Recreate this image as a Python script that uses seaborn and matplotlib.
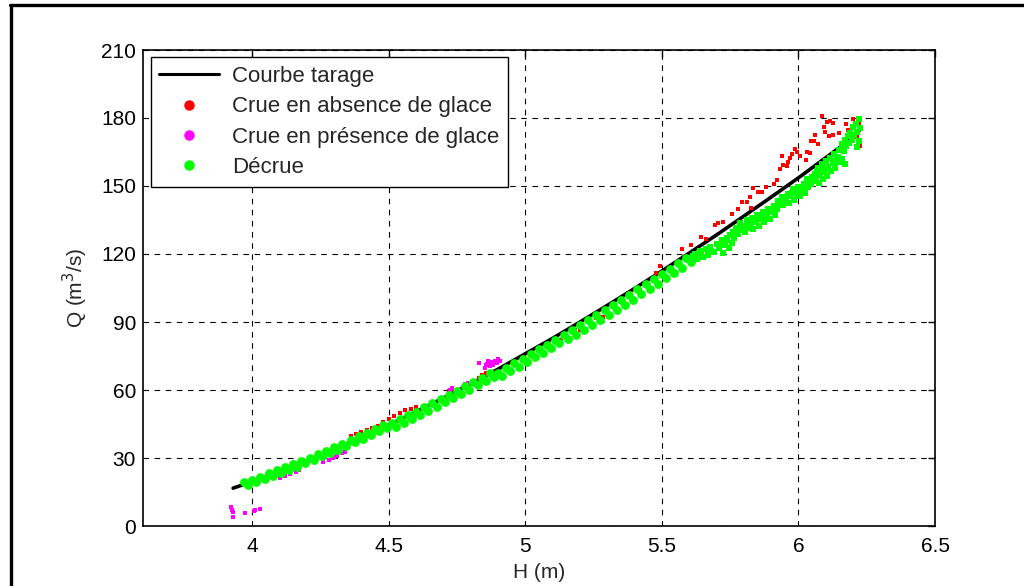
import matplotlib
matplotlib.use("Agg")
import matplotlib.pyplot as plt
from matplotlib.lines import Line2D
import seaborn as sns
import pandas as pd

# ---------------- data ----------------
curve_H = [3.93, 4.0, 4.1, 4.2, 4.3, 4.4, 4.5, 4.6, 4.7, 4.8, 4.9, 5.0, 5.1, 5.2,
           5.3, 5.4, 5.5, 5.6, 5.7, 5.8, 5.9, 6.0, 6.1, 6.2, 6.23]
curve_Q = [16.7, 19.6, 24.1, 28.8, 33.8, 39.1, 44.6, 50.4, 56.5, 62.7, 69.2, 76.0, 82.8, 90.0,
           97.3, 104.8, 112.5, 120.4, 128.4, 136.7, 145.1, 153.6, 162.5, 171.4, 175.5]

red_H = [4.36, 4.38, 4.40, 4.42, 4.44, 4.46, 4.48, 4.50, 4.52, 4.54, 4.56, 4.58, 4.60,
         4.72, 4.73, 4.83, 4.84, 4.85, 4.855, 4.86,
         5.132, 5.17, 5.181, 5.2, 5.224, 5.26, 5.285, 5.382, 5.419, 5.48, 5.492, 5.572, 5.608,
         5.645, 5.661, 5.694, 5.706, 5.724, 5.755, 5.779, 5.795, 5.81, 5.822, 5.826, 5.834,
         5.852, 5.865, 5.883, 5.91, 5.92, 5.932, 5.938, 5.944, 5.957, 5.962, 5.969, 5.975,
         5.987, 5.993, 6.005, 6.028, 6.03, 6.042, 6.047, 6.056, 6.06, 6.073, 6.087, 6.093,
         6.097, 6.103, 6.111, 6.115, 6.125, 6.127, 6.149, 6.174, 6.182, 6.195, 6.2, 6.213,
         6.219, 6.222, 6.227]
red_Q = [39.5, 40.5, 41.5, 42.5, 43.3, 44.3, 45.7, 47.0, 48.5, 49.7, 51.1, 51.5, 52.3,
         59.5, 60.5, 65.5, 66.5, 66.0, 67.5, 67.0,
         82.1, 86.0, 86.5, 86.5, 90.9, 91.6, 92.3, 102.7, 104.1, 111.5, 114.7, 122.1, 124.0,
         127.6, 126.6, 132.8, 133.6, 134.3, 137.6, 139.7, 143.1, 143.1, 145.0, 140.2, 148.9,
         147.5, 147.5, 149.7, 150.7, 152.6, 157.5, 163.2, 159.3, 158.8, 160.7, 162.2, 164.1,
         166.3, 165.1, 163.2, 161.5, 165.1, 164.4, 170.0, 170.0, 172.5, 168.4, 180.9, 175.9,
         174.0, 178.4, 172.0, 178.8, 177.7, 172.5, 173.5, 177.2, 174.7, 171.0, 179.4, 171.8,
         179.9, 177.7, 167.6]

mag_H = [3.923, 3.925, 3.929, 3.929, 3.972, 4.006, 4.01, 4.027,
         4.10, 4.12, 4.14, 4.16, 4.17, 4.26, 4.28, 4.294, 4.30, 4.31, 4.33, 4.34,
         4.723, 4.73, 4.78, 4.79, 4.797, 4.805, 4.829, 4.852, 4.855, 4.86, 4.865, 4.87,
         4.875, 4.88, 4.89, 4.895, 4.9, 4.907]
mag_Q = [8.2, 7.0, 6.3, 4.1, 5.6, 6.8, 7.2, 7.5,
         21.0, 22.0, 23.0, 24.0, 24.5, 28.2, 29.2, 29.8, 30.4, 31.0, 32.0, 32.5,
         60.0, 61.0, 62.6, 63.2, 63.0, 63.5, 72.0, 69.7, 71.0, 71.5, 73.0, 70.5,
         72.5, 71.0, 73.0, 72.0, 73.5, 72.8]

# dense band of "Décrue" points (3.97 - 5.6 m)
band_H = [
    3.97, 4.00, 4.03, 4.06, 4.09, 4.12, 4.15, 4.18, 4.21, 4.24, 4.27, 4.30, 4.33, 4.36,
    4.39, 4.42, 4.45, 4.48, 4.51, 4.54, 4.57, 4.60, 4.63, 4.66, 4.69, 4.72, 4.75, 4.78,
    4.81, 4.84, 4.87, 4.90, 4.93, 4.96, 4.99, 5.02, 5.05, 5.08, 5.11, 5.14, 5.17, 5.20,
    5.23, 5.26, 5.29, 5.32, 5.35, 5.38, 5.41, 5.44, 5.47, 5.50, 5.53, 5.56, 5.59,
    3.985, 4.015, 4.045, 4.075, 4.105, 4.135, 4.165, 4.195, 4.225, 4.255, 4.285, 4.315,
    4.345, 4.375, 4.405, 4.435, 4.465, 4.495, 4.525, 4.555, 4.585, 4.615, 4.645, 4.675,
    4.705, 4.735, 4.765, 4.795, 4.825, 4.855, 4.885, 4.915, 4.945, 4.975, 5.005, 5.035,
    5.065, 5.095, 5.125, 5.155, 5.185, 5.215, 5.245, 5.275, 5.305, 5.335, 5.365, 5.395,
    5.425, 5.455, 5.485, 5.515, 5.545, 5.575, 5.605]
band_Q = [
    19.2, 20.5, 21.8, 23.2, 24.5, 25.9, 27.3, 28.7, 30.2, 31.7, 33.2, 34.7, 36.3, 37.8,
    39.5, 41.1, 42.7, 44.4, 45.3, 47.0, 48.8, 50.5, 52.3, 54.1, 56.0, 57.8, 59.7, 61.6,
    63.4, 65.4, 67.3, 67.7, 69.7, 71.8, 73.8, 75.9, 77.9, 79.9, 82.0, 84.2, 86.6, 88.8,
    91.0, 93.1, 95.4, 97.6, 99.8, 102.1, 104.4, 106.6, 109.0, 111.3, 113.6, 116.0, 118.4,
    18.1, 19.4, 20.7, 22.1, 23.4, 24.8, 26.2, 27.7, 29.2, 30.7, 32.2, 33.7,
    35.2, 36.9, 38.5, 40.1, 41.7, 43.4, 43.8, 45.5, 47.2, 49.0, 50.8, 52.7,
    54.5, 56.4, 58.2, 60.1, 62.0, 63.9, 65.9, 66.2, 68.3, 70.3, 72.3, 74.4,
    76.4, 78.5, 80.6, 82.3, 84.4, 86.6, 88.7, 91.0, 93.2, 95.4, 97.6, 99.9,
    102.2, 104.5, 106.8, 109.2, 111.5, 113.9, 116.3]

# scattered "Décrue" points of the upper part (5.6 - 6.23 m)
upper_H = [
    5.62, 5.63, 5.645, 5.65, 5.66, 5.67, 5.675, 5.69, 5.70, 5.71, 5.72, 5.725, 5.73,
    5.74, 5.745, 5.75, 5.755,
    5.76, 5.77, 5.78, 5.785, 5.79, 5.80, 5.805, 5.81, 5.815, 5.82, 5.83, 5.835, 5.84,
    5.85, 5.855, 5.86, 5.87, 5.875, 5.88, 5.89, 5.895, 5.90, 5.91, 5.915, 5.92,
    5.93, 5.94, 5.945, 5.95, 5.96, 5.965, 5.97, 5.98, 5.985, 5.99, 6.00, 6.005, 6.01,
    6.02, 6.025, 6.03, 6.035, 6.04, 6.05,
    6.055, 6.06, 6.065, 6.07, 6.075, 6.08, 6.085, 6.09, 6.095, 6.10, 6.105, 6.11, 6.115,
    6.12, 6.125, 6.13, 6.135, 6.14, 6.15, 6.16, 6.17,
    6.15, 6.16, 6.165, 6.17, 6.175, 6.18, 6.185, 6.19, 6.195, 6.20, 6.205, 6.21, 6.215,
    6.22, 6.225, 6.22, 6.215,
    5.615, 5.64, 5.68, 5.715, 5.735, 5.765, 5.775, 5.795, 5.825, 5.845, 5.865, 5.885,
    5.905, 5.925, 5.955, 5.975, 5.995, 6.015, 6.045, 6.068, 6.088, 6.108, 6.128, 6.145]
upper_Q = [
    120.0, 118.0, 120.5, 118.5, 122.0, 119.5, 123.0, 121.0, 124.5, 122.5, 126.0, 120.5,
    124.0, 127.0, 122.5, 128.5, 125.0,
    129.5, 131.5, 128.8, 133.5, 130.5, 132.5, 129.5, 135.0, 131.5, 133.5, 136.0, 131.0,
    134.0, 137.0, 132.5, 135.5, 138.5, 134.0, 137.0, 140.0, 135.5, 138.5, 141.0, 137.0,
    140.0,
    142.5, 145.0, 141.5, 144.0, 146.5, 142.5, 145.5, 148.5, 144.0, 147.0, 149.5, 145.5,
    148.0, 151.0, 147.0, 153.0, 149.5, 152.0, 154.0,
    152.0, 155.5, 153.5, 158.0, 151.5, 155.0, 159.5, 153.0, 157.0, 161.0, 154.5, 158.5,
    162.5, 156.5, 160.0, 164.0, 158.0, 162.0, 160.5, 162.0, 159.5,
    166.0, 168.5, 165.5, 170.5, 167.5, 172.0, 169.0, 173.5, 170.5, 176.0, 172.5, 177.5,
    174.0, 179.5, 175.5, 170.0, 167.0,
    119.0, 121.5, 121.5, 124.5, 126.0, 127.0, 130.0, 131.0, 132.5, 135.0, 136.5, 136.0,
    139.5, 143.5, 145.0, 147.0, 146.0, 149.5, 151.0, 156.5, 156.0, 157.5, 161.0, 163.0]

x_ticks = [4, 4.5, 5, 5.5, 6, 6.5]
y_ticks = [0, 30, 60, 90, 120, 150, 180, 210]

labels = ["Courbe tarage", "Crue en absence de glace", "Crue en présence de glace", "Décrue"]
c_red, c_mag, c_green = "#ff0000", "#ff00ff", "#00ff00"

# ---------------- drawing ----------------
sns.set_style("white")
plt.rcParams["font.family"] = ["Liberation Sans", "DejaVu Sans"]

fig = plt.figure(figsize=(10.24, 5.86), dpi=100)
ax = fig.add_axes([143 / 1024, 1 - 526 / 586, (935 - 143) / 1024, (526 - 50) / 586])

curve_df = pd.DataFrame({"H": curve_H, "Q": curve_Q})
red_df = pd.DataFrame({"H": red_H, "Q": red_Q})
mag_df = pd.DataFrame({"H": mag_H, "Q": mag_Q})
band_df = pd.DataFrame({"H": band_H, "Q": band_Q})
upper_df = pd.DataFrame({"H": upper_H, "Q": upper_Q})

sns.lineplot(data=curve_df, x="H", y="Q", color="black", linewidth=2.6, sort=False,
             ax=ax, zorder=3)
sns.scatterplot(data=red_df, x="H", y="Q", color=c_red, s=12, linewidth=0, marker="s",
                ax=ax, zorder=4)
sns.scatterplot(data=mag_df, x="H", y="Q", color=c_mag, s=12, linewidth=0, marker="s",
                ax=ax, zorder=4)
sns.scatterplot(data=band_df, x="H", y="Q", color=c_green, s=40, linewidth=0, marker="o",
                ax=ax, zorder=5)
sns.scatterplot(data=upper_df, x="H", y="Q", color=c_green, s=13, linewidth=0, marker="s",
                ax=ax, zorder=5)

ax.set_xlim(3.6, 6.5)
ax.set_ylim(0, 210)
ax.set_xticks(x_ticks)
ax.set_xticklabels([f"{t:g}" for t in x_ticks])
ax.set_yticks(y_ticks)
ax.grid(True, color="black", linestyle=(0, (5, 5)), linewidth=0.8)
ax.set_axisbelow(True)
for sp in ax.spines.values():
    sp.set_color("black")
    sp.set_linewidth(1.2)
    sp.set_visible(True)
ax.tick_params(direction="in", length=5, width=1, top=True, right=True,
               labelsize=15, colors="black", pad=5)
ax.tick_params(axis="x", pad=8)
ax.set_xlabel("H (m)", fontsize=15, labelpad=5)
ax.set_ylabel("Q (m$^3$/s)", fontsize=15, labelpad=8)

handles = [Line2D([], [], color="black", lw=2.2),
           Line2D([], [], color=c_red, marker="o", ls="", ms=6.5),
           Line2D([], [], color=c_mag, marker="o", ls="", ms=6.5),
           Line2D([], [], color=c_green, marker="o", ls="", ms=6.5)]
leg = ax.legend(handles, labels, loc="upper left", bbox_to_anchor=(0.0095, 0.985),
                fontsize=16, frameon=True, fancybox=False, framealpha=1,
                edgecolor="black", borderpad=0.4, labelspacing=0.42, handlelength=2.7,
                handletextpad=0.55, borderaxespad=0)
leg.get_frame().set_linewidth(1.0)
leg.set_zorder(10)

# outer frame of the exported figure (top and left edges)
fig.add_artist(Line2D([10 / 1024, 1.0], [1 - 5 / 586, 1 - 5 / 586], color="black",
                      lw=2.4, transform=fig.transFigure))
fig.add_artist(Line2D([11 / 1024, 11 / 1024], [0.0, 1 - 5 / 586], color="black",
                      lw=2.4, transform=fig.transFigure))

fig.savefig("out.png", dpi=100)
